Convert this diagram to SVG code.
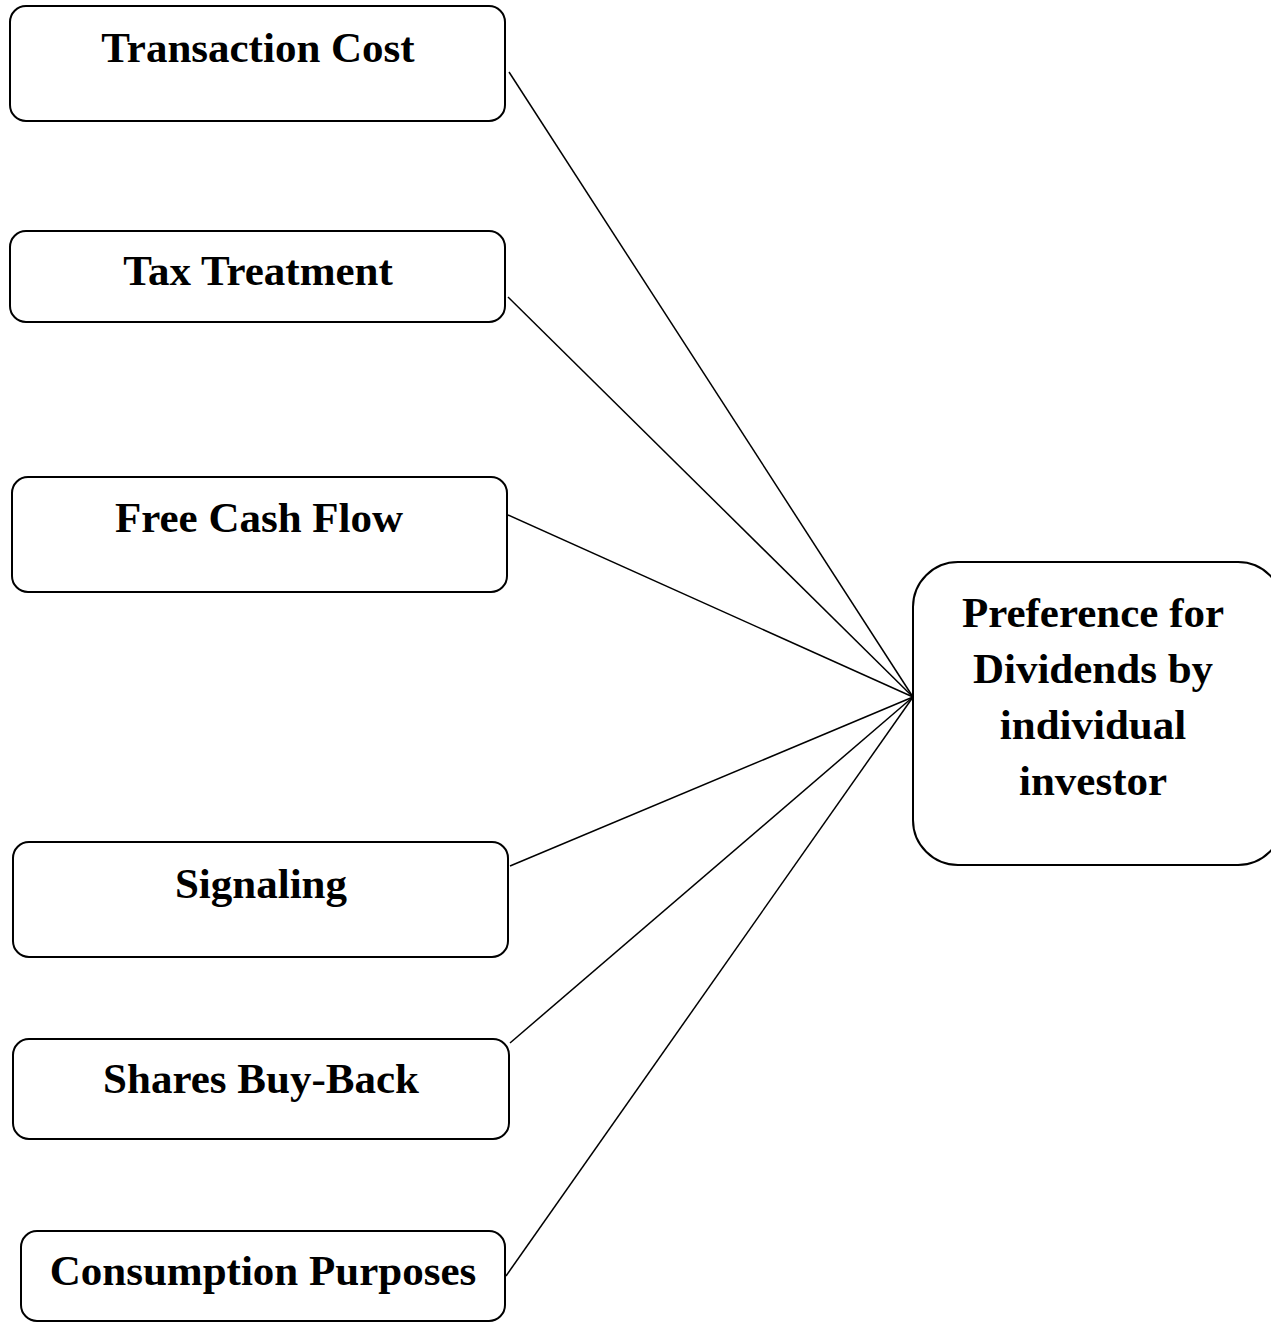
<svg xmlns="http://www.w3.org/2000/svg" width="1271" height="1324" viewBox="0 0 1271 1324">
<style>
.box{fill:#fff;stroke:#000;stroke-width:2}
.lbl{font-family:"Liberation Serif","Times New Roman",serif;font-weight:bold;font-size:43px;fill:#000;text-anchor:middle}
.con{stroke:#000;stroke-width:1.5;fill:none}
</style>
<rect width="1271" height="1324" fill="#fff"/>
<g id="connectors">
<line class="con" x1="509" y1="72" x2="913" y2="697"/>
<line class="con" x1="508" y1="297" x2="913" y2="697"/>
<line class="con" x1="508" y1="515" x2="913" y2="697"/>
<line class="con" x1="510" y1="866" x2="913" y2="697"/>
<line class="con" x1="510" y1="1043" x2="913" y2="697"/>
<line class="con" x1="506" y1="1276" x2="913" y2="697"/>
</g>
<g id="n1"><rect class="box" x="10" y="6" width="495" height="115" rx="16"/><text class="lbl" x="258" y="62">Transaction Cost</text></g>
<g id="n2"><rect class="box" x="10" y="231" width="495" height="91" rx="16"/><text class="lbl" x="258" y="285">Tax Treatment</text></g>
<g id="n3"><rect class="box" x="12" y="477" width="495" height="115" rx="16"/><text class="lbl" x="259" y="532">Free Cash Flow</text></g>
<g id="n4"><rect class="box" x="13" y="842" width="495" height="115" rx="16"/><text class="lbl" x="261" y="898">Signaling</text></g>
<g id="n5"><rect class="box" x="13" y="1039" width="496" height="100" rx="16"/><text class="lbl" x="261" y="1093">Shares Buy-Back</text></g>
<g id="n6"><rect class="box" x="21" y="1231" width="484" height="90" rx="16"/><text class="lbl" x="263" y="1285">Consumption Purposes</text></g>
<g id="n7"><rect class="box" x="913" y="562" width="370" height="303" rx="45"/>
<text class="lbl" x="1093" y="627">Preference for</text>
<text class="lbl" x="1093" y="683">Dividends by</text>
<text class="lbl" x="1093" y="739">individual</text>
<text class="lbl" x="1093" y="795">investor</text></g>
</svg>
